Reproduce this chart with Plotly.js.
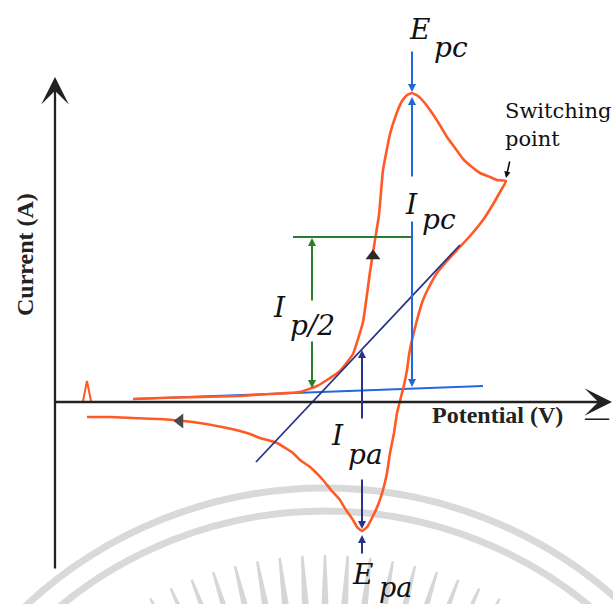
<!DOCTYPE html>
<html>
<head>
<meta charset="utf-8">
<script src="https://cdn.plot.ly/plotly-3.0.1.min.js"></script>
<style>
  html, body { margin: 0; padding: 0; background: #ffffff; }
  #cv { width: 613px; height: 604px; }
</style>
</head>
<body>
<div id="cv"></div>
<script>
// Cyclic voltammogram (schematic units): potential E, current I.
// Forward scan -> cathodic peak -> switching point -> reverse scan -> anodic peak.
const potential = [
  0.78, 1.05, 1.45, 1.85, 2.15, 2.45, 2.62, 2.72, 2.85, 2.98, 3.08, 3.15, 3.20, 3.24,
  3.28, 3.35, 3.41, 3.47, 3.52, 3.57, 3.63, 3.69, 3.75, 3.83, 3.92, 4.00, 4.08, 4.17,
  4.25, 4.35, 4.42, 4.51,
  4.45, 4.37, 4.28, 4.15, 4.02, 3.92, 3.82, 3.74, 3.68, 3.62, 3.57, 3.54, 3.52, 3.49,
  3.47, 3.44, 3.42, 3.39, 3.35, 3.32, 3.28, 3.23, 3.17, 3.12, 3.07,
  3.02, 2.98, 2.91, 2.85, 2.76, 2.68, 2.55, 2.45, 2.38, 2.22, 2.05, 1.95, 1.72, 1.38,
  1.05, 0.78, 0.55, 0.32
];
const current = [
  0.03, 0.04, 0.05, 0.06, 0.08, 0.10, 0.16, 0.22, 0.31, 0.48, 0.80, 1.30, 1.62, 1.87,
  2.32, 2.68, 2.87, 3.01, 3.07, 3.09, 3.06, 3.00, 2.92, 2.80, 2.65, 2.54, 2.43, 2.35,
  2.29, 2.25, 2.22, 2.21,
  2.10, 1.96, 1.82, 1.66, 1.52, 1.41, 1.29, 1.15, 1.02, 0.82, 0.62, 0.47, 0.32, 0.17,
  0.09, -0.03, -0.11, -0.31, -0.51, -0.71, -0.88, -1.03, -1.16, -1.25, -1.29,
  -1.25, -1.18, -1.08, -0.98, -0.88, -0.78, -0.65, -0.58, -0.51, -0.41, -0.36, -0.32, -0.26, -0.20,
  -0.17, -0.16, -0.15, -0.15
];

// small spike near the start of the record
const spikeE = [0.28, 0.30, 0.32, 0.34, 0.36];
const spikeI = [0.01, 0.11, 0.21, 0.11, 0.01];

// extrapolated baseline and tangent to the rising part of the reverse wave
const baselineE = [0.78, 4.28];
const baselineI = [0.03, 0.16];
const tangentE = [2.01, 4.05];
const tangentI = [-0.60, 1.57];

// characteristic values
const Epc = 3.57, IpcTop = 3.09, IpcBase = 0.15;
const Epa = 3.07, IpaBottom = -1.29;
const halfE = 2.57, halfLevel = 1.65, halfBase = 0.14, halfLineStart = 2.38;
const switchE = 4.51, switchI = 2.21;

// scan-direction markers
const dirE = [3.18, 1.25];
const dirI = [1.46, -0.19];
const dirSymbol = ['triangle-up', 'triangle-left'];
const dirColor = ['#2a2a2a', '#4a4a4a'];

const ORANGE = '#ff5a26';
const BLUE = '#2466dc';
const NAVY = '#28348a';
const GREEN = '#2a7d2a';

const traces = [
  { x: baselineE, y: baselineI, mode: 'lines', line: { color: BLUE, width: 2 }, hoverinfo: 'skip' },
  { x: potential, y: current, mode: 'lines', line: { color: ORANGE, width: 2.6, shape: 'spline', smoothing: 0.35 }, hoverinfo: 'skip' },
  { x: spikeE, y: spikeI, mode: 'lines', line: { color: ORANGE, width: 2 }, hoverinfo: 'skip' },
  { x: tangentE, y: tangentI, mode: 'lines', line: { color: NAVY, width: 1.8 }, hoverinfo: 'skip' },
  { x: [halfLineStart, Epc], y: [halfLevel, halfLevel], mode: 'lines', line: { color: GREEN, width: 2 }, hoverinfo: 'skip' },
  { x: dirE, y: dirI, mode: 'markers', marker: { symbol: dirSymbol, size: 13, color: dirColor }, hoverinfo: 'skip' }
];

// arrows drawn as annotations (tip at x,y; tail at ax,ay)
function arrow(x, y, ax, ay, color, head, size, width) {
  return {
    x: x, y: y, ax: ax, ay: ay, xref: 'x', yref: 'y', axref: 'x', ayref: 'y',
    text: '', showarrow: true, arrowhead: head, arrowsize: size, arrowwidth: width,
    arrowcolor: color, standoff: 0, startstandoff: 0
  };
}
function label(text, x, y, size, opts) {
  return Object.assign({
    x: x, y: y, xref: 'x', yref: 'y', text: text, showarrow: false,
    font: { family: 'DejaVu Serif', size: size, color: '#111111', style: 'italic' }
  }, opts || {});
}

const annotations = [
  // axes
  arrow(0, 3.25, 0, -1.68, '#222222', 3, 2.0, 2.3),
  arrow(5.57, 0, -0.02, 0, '#222222', 3, 2.0, 2.3),
  // cathodic peak
  arrow(Epc, IpcTop + 0.01, Epc, 3.52, BLUE, 2, 0.8, 2),
  arrow(Epc, IpcTop - 0.04, Epc, 2.24, BLUE, 2, 0.8, 2),
  arrow(Epc, IpcBase, Epc, 1.82, BLUE, 2, 0.8, 2),
  // half-peak current
  arrow(halfE, halfLevel - 0.01, halfE, 1.00, GREEN, 2, 0.8, 2),
  arrow(halfE, halfBase, halfE, 0.62, GREEN, 2, 0.8, 2),
  // anodic peak
  arrow(Epa, 0.52, Epa, -0.18, NAVY, 2, 0.8, 2),
  arrow(Epa, IpaBottom + 0.02, Epa, -0.76, NAVY, 2, 0.8, 2),
  arrow(Epa, IpaBottom - 0.04, Epa, -1.53, NAVY, 2, 0.8, 2),
  // switching point
  arrow(switchE, switchI + 0.03, switchE + 0.04, 2.42, '#111111', 2, 0.8, 1.6),

  // labels
  label('E', 3.64, 3.73, 28),
  label('pc', 3.96, 3.55, 28),
  label('I', 3.56, 1.98, 28),
  label('pc', 3.835, 1.83, 28),
  label('I', 2.24, 0.95, 28),
  label('p/2', 2.575, 0.77, 28),
  label('I', 2.825, -0.33, 28),
  label('pa', 3.10, -0.52, 28),
  label('E', 3.075, -1.72, 28),
  label('pa', 3.405, -1.855, 27),
  { x: 4.48, y: 2.91, xref: 'x', yref: 'y', xanchor: 'left', text: 'Switching', showarrow: false,
    font: { family: 'DejaVu Serif', size: 21, color: '#111111' } },
  { x: 4.48, y: 2.63, xref: 'x', yref: 'y', xanchor: 'left', text: 'point', showarrow: false,
    font: { family: 'DejaVu Serif', size: 21, color: '#111111' } },
  { x: -0.30, y: 1.47, xref: 'x', yref: 'y', text: '<b>Current (A)</b>', textangle: -90, showarrow: false,
    font: { family: 'Liberation Serif', size: 24, color: '#222222' } },
  { x: 4.42, y: -0.13, xref: 'x', yref: 'y', text: '<b>Potential (V)</b>', showarrow: false,
    font: { family: 'Liberation Serif', size: 24, color: '#222222' } },
  { x: 5.42, y: -0.15, xref: 'x', yref: 'y', text: '<b>—</b>', showarrow: false,
    font: { family: 'Liberation Serif', size: 24, color: '#222222' } }
];

// faint seal in the background: two rings and a crown of rays
const seal = { cx: 2.70, cy: -5.25, rOuter: 4.39, rInner: 4.16, rayTip: 3.72, rayBase: 3.00 };
const shapes = [];
[seal.rOuter, seal.rInner].forEach(function (r) {
  shapes.push({
    type: 'circle', xref: 'x', yref: 'y', layer: 'below',
    x0: seal.cx - r, x1: seal.cx + r, y0: seal.cy - r, y1: seal.cy + r,
    line: { color: '#d9d9d9', width: 7 }
  });
});
for (let a = -28; a <= 28.01; a += 3.5) {
  const t = a * Math.PI / 180;
  const sx = Math.sin(t), sy = Math.cos(t), nx = Math.cos(t), ny = -Math.sin(t);
  const tX = seal.cx + seal.rayTip * sx, tY = seal.cy + seal.rayTip * sy;
  const bX = seal.cx + seal.rayBase * sx, bY = seal.cy + seal.rayBase * sy;
  const wt = 0.012, wb = 0.045;
  shapes.push({
    type: 'path', xref: 'x', yref: 'y', layer: 'below',
    path: 'M' + (tX + wt * nx) + ',' + (tY + wt * ny) +
          ' L' + (bX + wb * nx) + ',' + (bY + wb * ny) +
          ' L' + (bX - wb * nx) + ',' + (bY - wb * ny) +
          ' L' + (tX - wt * nx) + ',' + (tY - wt * ny) + ' Z',
    fillcolor: '#d6d6d6', line: { width: 0 }
  });
}

const layout = {
  width: 613, height: 604,
  margin: { l: 0, r: 0, t: 0, b: 0, pad: 0 },
  paper_bgcolor: '#ffffff', plot_bgcolor: '#ffffff',
  showlegend: false,
  xaxis: { range: [-0.55, 5.58], visible: false, fixedrange: true },
  yaxis: { range: [-2.02, 4.02], visible: false, fixedrange: true },
  annotations: annotations,
  shapes: shapes
};

Plotly.newPlot('cv', traces, layout, { staticPlot: true, displayModeBar: false });
</script>
</body>
</html>
